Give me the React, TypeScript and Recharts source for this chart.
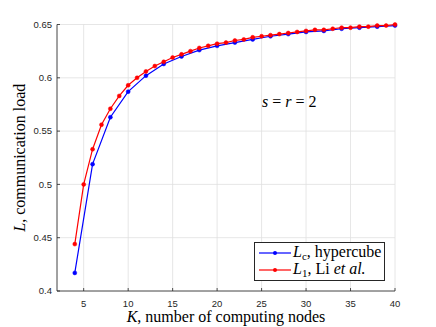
import React from 'react';
import { LineChart, Line, XAxis, YAxis, CartesianGrid, Legend } from 'recharts';

// K = number of computing nodes
const liNodes = [4, 5, 6, 7, 8, 9, 10, 11, 12, 13, 14, 15, 16, 17, 18, 19, 20, 21, 22,
  23, 24, 25, 26, 27, 28, 29, 30, 31, 32, 33, 34, 35, 36, 37, 38, 39, 40];
const liLoad = [0.444, 0.5, 0.533, 0.556, 0.571, 0.583, 0.593, 0.6, 0.606, 0.611, 0.615,
  0.619, 0.622, 0.625, 0.628, 0.63, 0.632, 0.633, 0.635, 0.636, 0.638, 0.639, 0.64,
  0.641, 0.642, 0.643, 0.644, 0.645, 0.645, 0.646, 0.647, 0.647, 0.648, 0.648, 0.649,
  0.649, 0.65];

const cubeNodes = [4, 6, 8, 10, 12, 14, 16, 18, 20, 22, 24, 26, 28, 30, 32, 34, 36, 38, 40];
const cubeLoad = [0.417, 0.519, 0.563, 0.587, 0.602, 0.613, 0.62, 0.626, 0.63, 0.633,
  0.636, 0.639, 0.641, 0.643, 0.644, 0.646, 0.647, 0.648, 0.649];

const xTicks = [5, 10, 15, 20, 25, 30, 35, 40];
const yTicks = [0.4, 0.45, 0.5, 0.55, 0.6, 0.65];

const liData = liNodes.map((k, i) => ({ K: k, load: liLoad[i] }));
const cubeData = cubeNodes.map((k, i) => ({ K: k, load: cubeLoad[i] }));

const serif = 'Liberation Serif, DejaVu Serif, serif';
const sans = 'Liberation Sans, Arial, sans-serif';
const axisColor = '#262626';
const BLUE = '#0000ff';
const RED = '#ff0000';

const XTitle = ({ viewBox }: any) => {
  const cx = viewBox.x + viewBox.width / 2;
  return (
    <text x={cx} y={viewBox.y + 30.5} textAnchor="middle" style={{ fontFamily: serif }} fontSize={16} fill="#000">
      <tspan fontStyle="italic">K</tspan>, number of computing nodes
    </text>
  );
};

const YTitle = ({ viewBox }: any) => {
  const cy = viewBox.y + viewBox.height / 2;
  return (
    <text x={0} y={0} transform={`translate(25, ${cy}) rotate(-90)`} textAnchor="middle"
      style={{ fontFamily: serif }} fontSize={16} fill="#000">
      <tspan fontStyle="italic">L</tspan>, communication load
    </text>
  );
};

const sub = { fontSize: 11, fontStyle: 'normal' as const, verticalAlign: -3, lineHeight: 1 };

const legendRows = [
  { color: BLUE, label: <><i>L</i><span style={sub}>c</span>, hypercube</> },
  { color: RED, label: <><i>L</i><span style={sub}>1</span>, Li <i>et al.</i></> },
];

const LegendBox = () => (
  <div style={{
    width: 131, height: 39, boxSizing: 'border-box', border: `1px solid ${axisColor}`,
    background: '#fff', fontFamily: serif, fontSize: 16, color: '#000', paddingTop: 1,
  }}>
    {legendRows.map((r, i) => (
      <div key={i} style={{ display: 'flex', alignItems: 'center', height: 17.5, lineHeight: 1 }}>
        <svg width={37} height={10} style={{ flex: 'none' }}>
          <line x1={4} y1={5} x2={36} y2={5} stroke={r.color} strokeWidth={1.2} />
          <circle cx={20} cy={5} r={2} fill={r.color} />
        </svg>
        <span style={{ marginLeft: 1, whiteSpace: 'nowrap' }}>{r.label}</span>
      </div>
    ))}
  </div>
);

export default function App() {
  return (
    <div style={{ position: 'fixed', left: 0, top: 0, width: 436, height: 327, background: '#fff' }}>
      <LineChart width={436} height={327} margin={{ top: 24.5, right: 41, left: 12, bottom: 0 }}>
        <CartesianGrid stroke="#e0e0e0" strokeWidth={0.8} />
        <XAxis
          dataKey="K"
          type="number"
          domain={[2, 40]}
          ticks={xTicks}
          height={36}
          tickSize={-3}
          tickMargin={12}
          tick={{ fill: axisColor, fontSize: 9.5, fontFamily: sans }}
          axisLine={{ stroke: axisColor, strokeWidth: 0.8 }}
          tickLine={{ stroke: axisColor, strokeWidth: 0.8 }}
          label={<XTitle />}
        />
        <YAxis
          type="number"
          domain={[0.4, 0.65]}
          ticks={yTicks}
          width={45}
          tickSize={-3}
          tickMargin={8}
          tick={{ fill: axisColor, fontSize: 9.5, fontFamily: sans }}
          axisLine={{ stroke: axisColor, strokeWidth: 0.8 }}
          tickLine={{ stroke: axisColor, strokeWidth: 0.8 }}
          label={<YTitle />}
        />
        <Legend
          layout="vertical"
          align="center"
          verticalAlign="middle"
          content={() => <LegendBox />}
          wrapperStyle={{ left: 254, top: 242, width: 131, height: 39 }}
        />
        <Line data={cubeData} dataKey="load" name="Lc, hypercube" type="linear" stroke={BLUE}
          strokeWidth={1.2} dot={{ r: 2, fill: BLUE, stroke: BLUE, strokeWidth: 0.5 }}
          activeDot={false} isAnimationActive={false} />
        <Line data={liData} dataKey="load" name="L1, Li et al." type="linear" stroke={RED}
          strokeWidth={1.2} dot={{ r: 2, fill: RED, stroke: RED, strokeWidth: 0.5 }}
          activeDot={false} isAnimationActive={false} />
      </LineChart>
      <div style={{
        position: 'absolute', left: 262, top: 92, fontFamily: serif, fontSize: 16,
        color: '#000', whiteSpace: 'nowrap', lineHeight: '20px',
      }}>
        <i>s</i> = <i>r</i> = 2
      </div>
    </div>
  );
}
